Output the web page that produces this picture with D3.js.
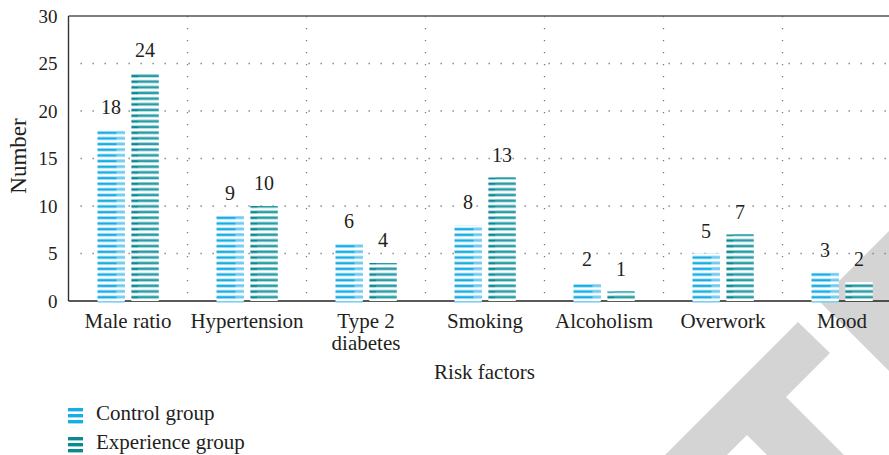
<!DOCTYPE html>
<html><head><meta charset="utf-8">
<script src="https://cdn.jsdelivr.net/npm/d3@7"></script>
<style>
html,body{margin:0;padding:0;background:#fff;}
</style></head>
<body>
<script>
const categories = ["Male ratio","Hypertension","Type 2\ndiabetes","Smoking","Alcoholism","Overwork","Mood"];
const seriesNames = ["Control group","Experience group"];
const controlValues = [18,9,6,8,2,5,3];
const experienceValues = [24,10,4,13,1,7,2];
const yTickValues = [0,5,10,15,20,25,30];
const xTitle = "Risk factors";
const yTitle = "Number";

(function(){
const FONT = "'Liberation Serif', 'Times New Roman', Tinos, 'DejaVu Serif', 'Noto Serif', serif";
const W = 889, H = 455;
const svg = d3.select("body").append("svg").attr("width", W).attr("height", H)
  .attr("font-family", FONT).style("font-family", FONT);
const defs = svg.append("defs");

const pLeft = 68.5, pTop = 16, pBottom = 301, pRight = 901.5;
const y = d3.scaleLinear().domain([0,30]).range([pBottom, pTop]);
const x = d3.scaleBand().domain(categories).range([pLeft, pRight]).padding(0);
const x1 = d3.scaleBand().domain(seriesNames).range([-30.5, 30.5]).paddingInner(0.2);

// stripe patterns anchored to baseline
const period = y(0) - y(0.597);
function stripePattern(id, color, off, thick) {
  const p = defs.append("pattern").attr("id", id).attr("patternUnits","userSpaceOnUse")
    .attr("x", 0).attr("y", pBottom - period).attr("width", 10).attr("height", period);
  p.append("rect").attr("x",0).attr("y",0).attr("width",10).attr("height",period).attr("fill","#fff");
  p.append("rect").attr("x",0).attr("y",off).attr("width",10).attr("height",thick).attr("fill",color);
}
stripePattern("pc", "#17ade6", 0.6, 2.6);
stripePattern("pcl", "#6ecbf0", 0.3, 2.9);
stripePattern("pe", "#098a93", 0.6, 2.6);
stripePattern("pel", "#2a9ea6", 0.45, 2.7);

// watermark
const wm = svg.append("g").attr("fill", "#d4d4d4");
wm.append("polygon").attr("points", [[798,322],[830,353],[786,397],[844,455],[767,455],[747,435],[727,455],[665,455]].map(p=>p.join(",")).join(" "));
wm.append("polygon").attr("points", [[819,301],[889,231],[889,371]].map(p=>p.join(",")).join(" "));

// gridlines
const grid = svg.append("g").attr("stroke", "#7a7a7a").attr("stroke-width", 1.3).attr("stroke-dasharray", "1.3,10.7");
grid.selectAll("line.h").data(yTickValues.filter(v => v > 0 && v < 30)).join("line").attr("class","h")
  .attr("x1", pLeft + 12).attr("x2", W).attr("y1", d => y(d)).attr("y2", d => y(d));
grid.selectAll("line.v").data(categories.slice(1)).join("line").attr("class","v")
  .attr("x1", d => x(d)).attr("x2", d => x(d)).attr("y1", pTop).attr("y2", pBottom);

// axes lines
svg.append("line").attr("x1", pLeft).attr("x2", W).attr("y1", pTop).attr("y2", pTop).attr("stroke", "#555").attr("stroke-width", 1.6);
svg.append("line").attr("x1", pLeft).attr("x2", pLeft).attr("y1", pTop).attr("y2", pBottom).attr("stroke", "#333").attr("stroke-width", 1.4);
svg.append("line").attr("x1", pLeft).attr("x2", W).attr("y1", pBottom).attr("y2", pBottom).attr("stroke", "#222").attr("stroke-width", 1.5);

// y tick labels
const yAxis = d3.axisLeft(y).tickValues(yTickValues).tickSize(0).tickPadding(11);
const ya = svg.append("g").attr("transform", `translate(${pLeft},0)`).call(yAxis)
  .attr("font-family", FONT).attr("font-size", 19);
ya.select(".domain").remove();
ya.selectAll("text").attr("fill", "#231f20");

// bars
const data = categories.map((c, i) => ({c, vals: [
  {s: seriesNames[0], v: controlValues[i], main: "pc", light: "pcl", lx: 0.7, lw: 0.3},
  {s: seriesNames[1], v: experienceValues[i], main: "pe", light: "pel", lx: 0.25, lw: 0.75}
]}));
const groups = svg.append("g").selectAll("g").data(data).join("g")
  .attr("transform", d => `translate(${x(d.c) + x.bandwidth()/2},0)`);
const bars = groups.selectAll("g").data(d => d.vals).join("g");
const bw = x1.bandwidth();
bars.append("rect").attr("x", d => x1(d.s)).attr("width", bw)
  .attr("y", d => y(d.v)).attr("height", d => y(0) - y(d.v)).attr("fill", d => `url(#${d.main})`);
bars.append("rect").attr("x", d => x1(d.s) + bw*d.lx).attr("width", d => bw*d.lw)
  .attr("y", d => y(d.v)).attr("height", d => y(0) - y(d.v)).attr("fill", d => `url(#${d.light})`);
bars.filter(d => d.s === seriesNames[0]).append("rect")
  .attr("x", d => x1(d.s)).attr("width", bw).attr("y", y(0)).attr("height", 1.6).attr("fill", "#7fd0f0");
bars.append("text").attr("x", d => x1(d.s) + bw/2).attr("y", d => y(d.v) - 16)
  .attr("text-anchor", "middle").attr("font-size", 20).attr("fill", "#231f20").text(d => d.v);

// x labels
const xl = svg.append("g").selectAll("text").data(categories).join("text")
  .attr("x", d => x(d) + x.bandwidth()/2).attr("y", 328).attr("text-anchor", "middle")
  .attr("font-size", 21).attr("fill", "#231f20");
xl.each(function(d){
  const lines = d.split("\n");
  d3.select(this).selectAll("tspan").data(lines).join("tspan")
    .attr("x", x(d) + x.bandwidth()/2).attr("dy", (l, i) => i === 0 ? 0 : 22).text(l => l);
});

// titles
svg.append("text").attr("x", x(categories[3]) + x.bandwidth()/2 - 0.5).attr("y", 379).attr("text-anchor", "middle")
  .attr("font-size", 21).attr("fill", "#231f20").text(xTitle);
svg.append("text").attr("transform", "translate(26,156) rotate(-90)").attr("text-anchor", "middle")
  .attr("font-size", 23).attr("fill", "#231f20").text(yTitle);

// legend
const legendColors = ["#17ade6", "#098a93"];
const lg = svg.append("g").selectAll("g").data(seriesNames).join("g")
  .attr("transform", (d, i) => `translate(68,${408 + i*29})`);
lg.each(function(d, i){
  const g = d3.select(this);
  [0,1,2].forEach(k => g.append("rect").attr("x", 0).attr("y", k*6).attr("width", 15).attr("height", 3.4).attr("fill", legendColors[i]));
  g.append("text").attr("x", 28).attr("y", 11.5).attr("font-size", 21).attr("fill", "#231f20").text(d);
});
})();
</script>
</body></html>
